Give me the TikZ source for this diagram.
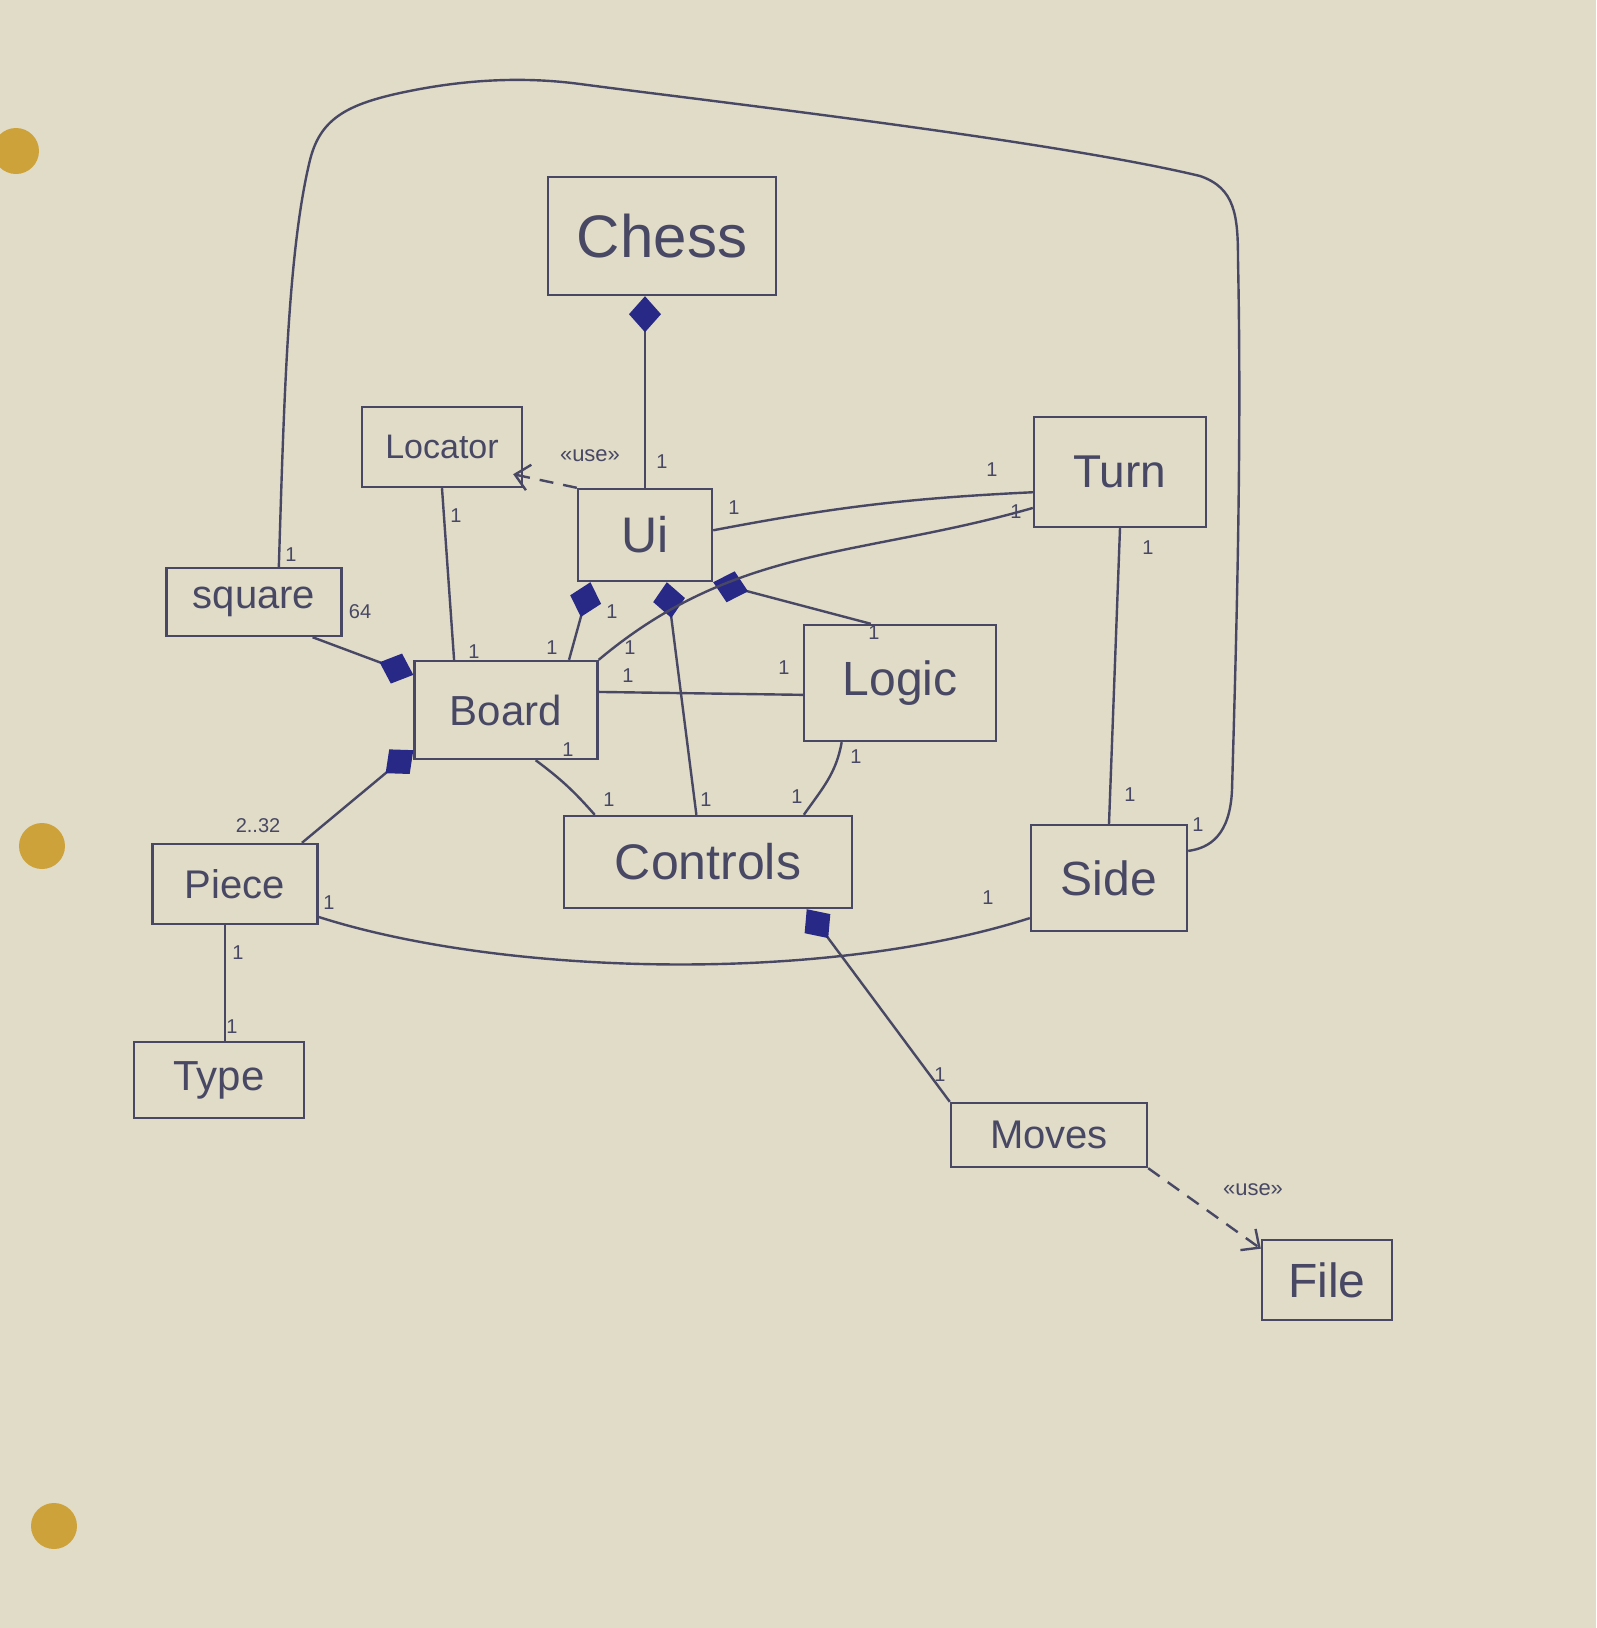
\documentclass[tikz,border=0pt]{standalone}
\usepackage{fontspec}
\setmainfont{Liberation Sans}
\usetikzlibrary{arrows.meta,calc}
\definecolor{paper}{RGB}{224,220,200}
\definecolor{ink}{RGB}{72,72,100}
\definecolor{dblue}{RGB}{40,40,135}
\definecolor{hole}{RGB}{205,162,58}
\begin{document}
\begin{tikzpicture}[x=1pt,y=-1pt,
  box/.style={draw=ink,line width=2.4pt,text=ink,inner sep=0pt,rectangle},
  conn/.style={draw=ink,line width=2.4pt},
  comp/.style={conn,-{Diamond[length=36pt,width=32pt,fill=dblue,color=dblue]}},
  uses/.style={conn,dash pattern=on 14pt off 10pt,-{Straight Barb[length=14pt,width=26pt]}},
  mult/.style={text=ink,inner sep=0pt,font=\fontsize{20}{20}\selectfont},
  stereo/.style={text=ink,inner sep=0pt,font=\fontsize{22}{22}\selectfont}]
\fill[paper] (0,0) rectangle (1596,1628);
\useasboundingbox (0,0) rectangle (1596,1628);
% punched holes
\fill[hole] (16,151) circle[radius=23];
\fill[hole] (42,846) circle[radius=23];
\fill[hole] (54,1526) circle[radius=23];

% classes
\node[box,minimum width=228pt,minimum height=118pt,font=\fontsize{60}{60}\selectfont] (chess) at (662,236) {Chess};
\node[box,minimum width=134pt,minimum height=92pt,font=\fontsize{50}{50}\selectfont] (ui) at (645,535) {Ui};
\node[box,minimum width=160pt,minimum height=80pt,font=\fontsize{34}{34}\selectfont] (locator) at (442,447) {Locator};
\node[box,minimum width=172pt,minimum height=110pt,font=\fontsize{46}{46}\selectfont] (turn) at (1120,472) {Turn};
\node[box,minimum width=175pt,minimum height=68pt,font=\fontsize{40}{40}\selectfont] (square) at (254,602) {square};
\node[box,minimum width=183pt,minimum height=98pt,font=\fontsize{42}{42}\selectfont] (board) at (506,710) {Board};
\node[box,minimum width=192pt,minimum height=116pt,font=\fontsize{48}{48}\selectfont] (logic) at (900,683) {Logic};
\node[box,minimum width=165pt,minimum height=80pt,font=\fontsize{40}{40}\selectfont] (piece) at (235,884) {Piece};
\node[box,minimum width=170pt,minimum height=76pt,font=\fontsize{42}{42}\selectfont] (type) at (219,1080) {Type};
\node[box,minimum width=288pt,minimum height=92pt,font=\fontsize{50}{50}\selectfont] (controls) at (708,862) {Controls};
\node[box,minimum width=156pt,minimum height=106pt,font=\fontsize{48}{48}\selectfont] (side) at (1109,878) {Side};
\node[box,minimum width=196pt,minimum height=64pt,font=\fontsize{40}{40}\selectfont] (moves) at (1049,1135) {Moves};
\node[box,minimum width=130pt,minimum height=80pt,font=\fontsize{48}{48}\selectfont] (file) at (1327,1280) {File};

% Chess <>- Ui
\draw[comp] (ui.north) -- (ui.north |- chess.south);
\node[mult] (m1) at (662,462) {1};

% Ui uses Locator
\draw[uses] (ui.north west) -- ($(locator.south east)+(-10,-14)$);
\node[stereo] (s1) at (590,456) {«use»};

% Locator -- Board
\draw[conn] (locator.south) -- ($(board.north west)!0.22!(board.north east)$);
\node[mult] (m2) at (456,516) {1};
\node[mult] (m3) at (474,652) {1};

% Board <>- square
\draw[comp] ($(square.south west)!0.83!(square.south east)$) -- ($(board.north west)!0.15!(board.south west)$);
\node[mult] (m4) at (360,612) {64};

% Board <>- Piece
\draw[comp] ($(piece.north west)!0.9!(piece.north east)$) -- ($(board.north west)!0.9!(board.south west)$);
\node[mult] (m5) at (258,826) {2..32};

% Ui <>- Board
\draw[comp] ($(board.north west)!0.84!(board.north east)$) -- ($(ui.south west)!0.1!(ui.south east)$);
\node[mult] (m6) at (552,648) {1};
\node[mult] (m7) at (612,612) {1};

% Ui <>- Controls
\draw[comp] ($(controls.north west)!0.46!(controls.north east)$) -- ($(ui.south west)!0.66!(ui.south east)$);
\node[mult] (m8) at (706,800) {1};

% Ui <>- Logic
\draw[comp] ($(logic.north west)!0.35!(logic.north east)$) -- (ui.south east);
\node[mult] (m9) at (874,633) {1};

% Ui -- Turn
\draw[conn] ($(ui.north east)!0.45!(ui.south east)$) to[bend left=4] ($(turn.north west)!0.68!(turn.south west)$);
\node[mult] (m10) at (734,508) {1};
\node[mult] (m11) at (992,470) {1};

% Board -- Turn
\draw[conn] (board.north east) to[out=40,in=196] ($(turn.north west)!0.82!(turn.south west)$);
\node[mult] (m12) at (630,648) {1};
\node[mult] (m13) at (1016,512) {1};

% Board -- Logic
\draw[conn] ($(board.north east)!0.32!(board.south east)$) -- ($(logic.north west)!0.6!(logic.south west)$);
\node[mult] (m14) at (628,676) {1};
\node[mult] (m15) at (784,668) {1};

% Board -- Controls
\draw[conn] ($(board.south west)!0.66!(board.south east)$) to[bend left=6] ($(controls.north west)!0.11!(controls.north east)$);
\node[mult] (m16) at (568,750) {1};
\node[mult] (m17) at (609,800) {1};

% Logic -- Controls
\draw[conn] ($(logic.south west)!0.2!(logic.south east)$) to[out=-100,in=55] ($(controls.north west)!0.83!(controls.north east)$);
\node[mult] (m18) at (856,757) {1};
\node[mult] (m19) at (797,797) {1};

% Turn -- Side
\draw[conn] (turn.south) -- (side.north);
\node[mult] (m20) at (1148,548) {1};
\node[mult] (m21) at (1130,795) {1};

% Piece -- Side
\draw[conn] ($(piece.north east)!0.9!(piece.south east)$) .. controls (500,975) and (820,985) .. ($(side.north west)!0.87!(side.south west)$);
\node[mult] (m22) at (329,903) {1};
\node[mult] (m23) at (988,898) {1};

% Piece -- Type
\coordinate (pt) at ($(piece.south west)!0.44!(piece.south east)$);
\draw[conn] (pt) -- (pt |- type.north);
\node[mult] (m24) at (238,953) {1};
\node[mult] (m25) at (232,1027) {1};

% Controls <>- Moves
\draw[comp] (moves.north west) -- ($(controls.south west)!0.84!(controls.south east)$);
\node[mult] (m26) at (940,1075) {1};

% Moves uses File
\draw[uses] (moves.south east) -- ($(file.north west)!0.12!(file.south west)$);
\node[stereo] (s2) at (1253,1190) {«use»};

% square -- Side (big loop)
\coordinate (sq) at ($(square.north west)!0.64!(square.north east)$);
\coordinate (sd) at ($(side.north east)!0.25!(side.south east)$);
\draw[conn] (sq) .. controls (284,400) and (288,250) .. (310,160)
  .. controls (320,120) and (345,105) .. (400,93)
  .. controls (460,80) and (520,76) .. (580,84)
  .. controls (700,100) and (1050,140) .. (1200,176)
  .. controls (1235,188) and (1238,215) .. (1238,260)
  .. controls (1242,450) and (1236,650) .. (1232,790)
  .. controls (1230,835) and (1210,848) .. (sd);
\node[mult] (m27) at (291,555) {1};
\node[mult] (m28) at (1198,825) {1};
\end{tikzpicture}
\end{document}
